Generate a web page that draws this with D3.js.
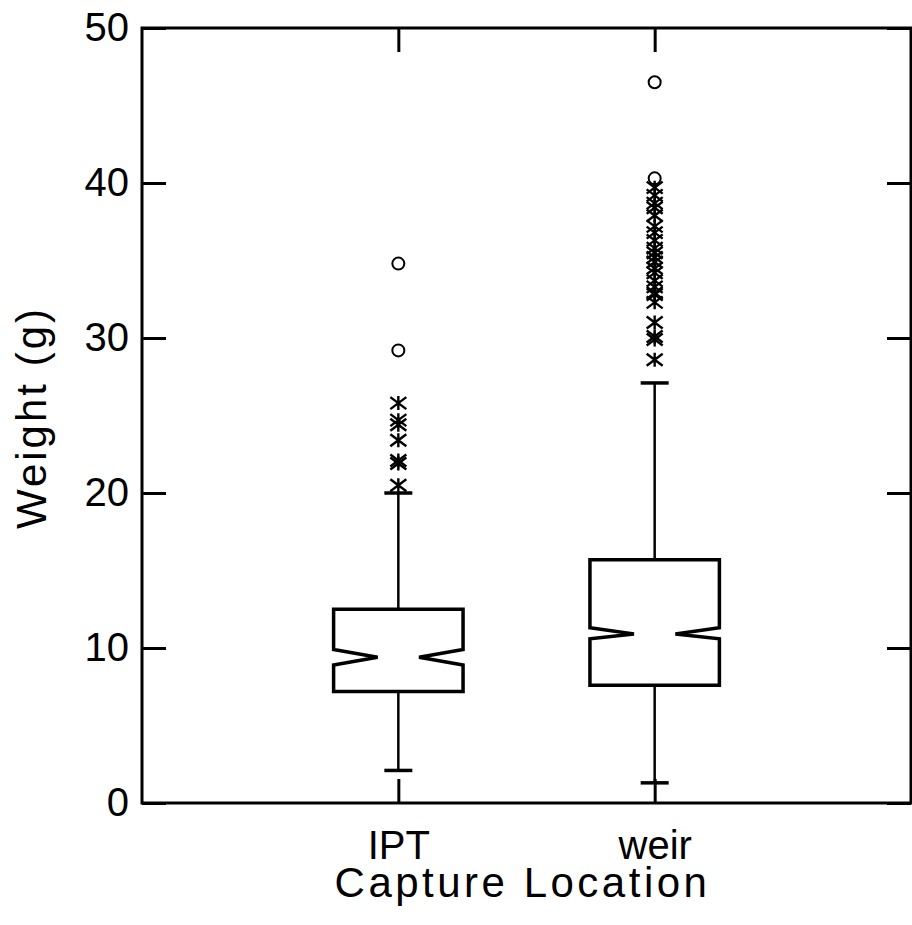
<!DOCTYPE html>
<html>
<head>
<meta charset="utf-8">
<script src="https://cdn.jsdelivr.net/npm/d3@7"></script>
<style>
  body { margin: 0; background: #fff; }
  text { font-family: Arial, "Liberation Sans", Helvetica, sans-serif; fill: #000; }
</style>
</head>
<body>
<script>
var categories = ["IPT", "weir"];
var whiskerLow = [2.1, 1.3];
var q1 = [7.2, 7.6];
var median = [9.4, 10.9];
var q3 = [12.5, 15.7];
var whiskerHigh = [20.0, 27.1];
var notchLow = [8.9, 10.6];
var notchHigh = [9.9, 11.3];
// uitschieters: sterretjes en rondjes
var starsIPT = [20.5, 21.9, 22.1, 23.4, 24.4, 24.7, 25.8];
var starsWeir = [28.6, 29.9, 30.1, 31.0, 32.3, 32.8, 32.9, 33.3, 33.7, 34.2, 34.5, 34.9,
  35.2, 35.5, 35.8, 36.3, 36.8, 37.2, 37.9, 38.4, 38.7, 39.2, 39.7];
var circlesIPT = [29.2, 34.8];
var circlesWeir = [40.3, 46.5];
var yTicks = [0, 10, 20, 30, 40, 50];

var margin = { top: 28, right: 1, bottom: 122, left: 142 },
    width = 912 - margin.left - margin.right,
    height = 925 - margin.top - margin.bottom;

var svg = d3.select("body").append("svg")
    .attr("width", 912)
    .attr("height", 925)
    .append("g")
    .attr("transform", "translate(" + margin.left + "," + margin.top + ")");

var x = d3.scalePoint()
    .domain(categories)
    .range([0, width])
    .padding(1);
var y = d3.scaleLinear()
    .domain([0, 50])
    .range([height, 0]);

var tick = 24;
var fontSize = 40;

// assen met ticks naar binnen
svg.append("g")
    .attr("class", "y axis")
    .call(d3.axisLeft(y).tickValues(yTicks).tickSize(-tick).tickSizeOuter(0).tickPadding(13));
svg.append("g")
    .attr("transform", "translate(" + width + ",0)")
    .call(d3.axisRight(y).tickValues(yTicks).tickSize(-tick).tickSizeOuter(0).tickFormat(""));
svg.append("g")
    .call(d3.axisTop(x).tickSize(-tick).tickSizeOuter(0).tickFormat(""));
svg.append("g")
    .attr("class", "x axis")
    .attr("transform", "translate(0," + height + ")")
    .call(d3.axisBottom(x).tickSize(-tick).tickSizeOuter(0).tickPadding(28));

svg.selectAll(".domain").remove();
svg.selectAll(".tick line").attr("stroke", "#000").attr("stroke-width", 3);
svg.selectAll(".tick text").attr("font-size", fontSize).attr("fill", "#000");

// kader
svg.append("rect")
    .attr("width", width)
    .attr("height", height)
    .attr("fill", "none")
    .attr("stroke", "#000")
    .attr("stroke-width", 3);

// aslabels
svg.append("text")
    .attr("x", width / 2 - 4)
    .attr("y", height + 94)
    .attr("text-anchor", "middle")
    .attr("font-size", 42)
    .attr("letter-spacing", 3.5)
    .text("Capture Location");

svg.append("text")
    .attr("transform", "translate(" + (-96) + "," + (height / 2 + 2) + ") rotate(-90)")
    .attr("text-anchor", "middle")
    .attr("font-size", 42)
    .attr("letter-spacing", 3)
    .text("Weight (g)");

// boxen
var boxW = x.step() * 0.505;
var inset = 44;
var capW = 28;

var data = categories.map(function(c, i) {
    return {
        name: c, lo: whiskerLow[i], q1: q1[i], med: median[i], q3: q3[i], hi: whiskerHigh[i],
        nLo: notchLow[i], nHi: notchHigh[i]
    };
});

var box = svg.selectAll(".box")
    .data(data)
    .enter().append("g")
    .attr("class", "box")
    .attr("transform", function(d) { return "translate(" + x(d.name) + ",0)"; });

box.append("line")
    .attr("y1", function(d) { return y(d.lo); })
    .attr("y2", function(d) { return y(d.q1); })
    .attr("stroke", "#000").attr("stroke-width", 2.5);
box.append("line")
    .attr("y1", function(d) { return y(d.q3); })
    .attr("y2", function(d) { return y(d.hi); })
    .attr("stroke", "#000").attr("stroke-width", 2.5);
box.append("line")
    .attr("x1", -capW / 2).attr("x2", capW / 2)
    .attr("y1", function(d) { return y(d.lo); })
    .attr("y2", function(d) { return y(d.lo); })
    .attr("stroke", "#000").attr("stroke-width", 3.5);
box.append("line")
    .attr("x1", -capW / 2).attr("x2", capW / 2)
    .attr("y1", function(d) { return y(d.hi); })
    .attr("y2", function(d) { return y(d.hi); })
    .attr("stroke", "#000").attr("stroke-width", 3.5);

// ingekeepte box
box.append("path")
    .attr("fill", "none")
    .attr("stroke", "#000")
    .attr("stroke-width", 3.5)
    .attr("d", function(d) {
        var h = boxW / 2;
        var l = d3.path();
        l.moveTo(-h, y(d.nHi));
        l.lineTo(-h, y(d.q3));
        l.lineTo(h, y(d.q3));
        l.lineTo(h, y(d.nHi));
        l.lineTo(h - inset, y(d.med));
        l.lineTo(h, y(d.nLo));
        l.lineTo(h, y(d.q1));
        l.lineTo(-h, y(d.q1));
        l.lineTo(-h, y(d.nLo));
        l.lineTo(-h + inset, y(d.med));
        l.closePath();
        return l.toString();
    });

// sterretjes en rondjes
var stars = [];
starsIPT.forEach(function(v) { stars.push({ name: "IPT", v: v }); });
starsWeir.forEach(function(v) { stars.push({ name: "weir", v: v }); });
var circles = [];
circlesIPT.forEach(function(v) { circles.push({ name: "IPT", v: v }); });
circlesWeir.forEach(function(v) { circles.push({ name: "weir", v: v }); });

svg.selectAll(".star")
    .data(stars)
    .enter().append("path")
    .attr("class", "star")
    .attr("transform", function(d) { return "translate(" + x(d.name) + "," + y(d.v) + ")"; })
    .attr("d", "M-8,-6L8,6M-8,6L8,-6M0,-7L0,7")
    .attr("fill", "none")
    .attr("stroke", "#000")
    .attr("stroke-width", 2.4);

svg.selectAll(".circ")
    .data(circles)
    .enter().append("circle")
    .attr("class", "circ")
    .attr("cx", function(d) { return x(d.name); })
    .attr("cy", function(d) { return y(d.v); })
    .attr("r", 6)
    .attr("fill", "none")
    .attr("stroke", "#000")
    .attr("stroke-width", 2);
</script>
</body>
</html>
